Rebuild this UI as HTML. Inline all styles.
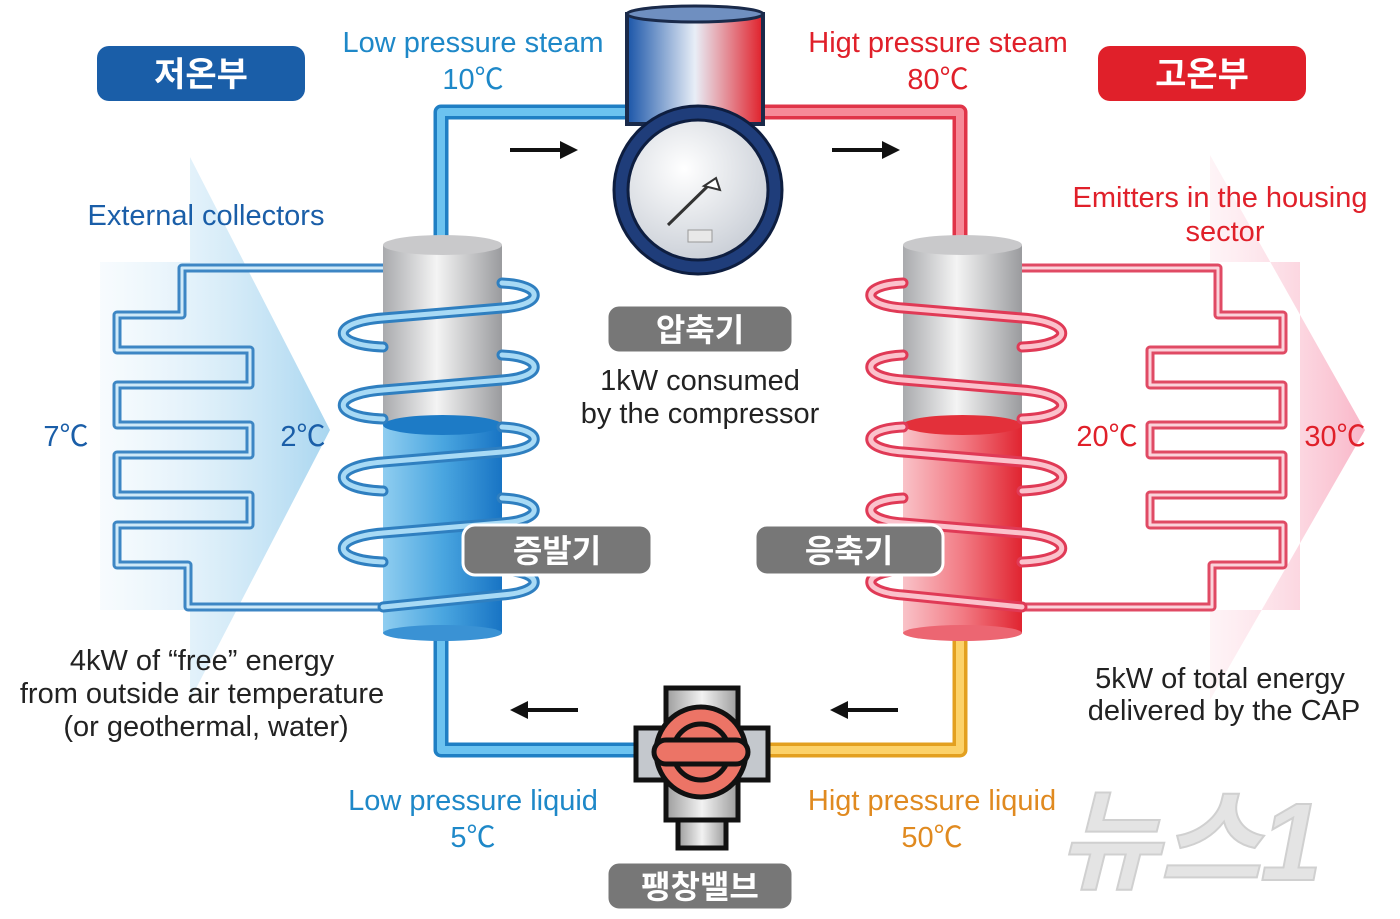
<!DOCTYPE html>
<html><head><meta charset="utf-8"><style>
html,body{margin:0;padding:0;background:#fff;}
svg{display:block;}
text{font-family:"Liberation Sans","Noto Sans CJK KR",sans-serif;}
</style></head><body>
<svg width="1400" height="919" viewBox="0 0 1400 919" xmlns="http://www.w3.org/2000/svg">
<defs>
<linearGradient id="bluTri" x1="0" x2="1" y1="0" y2="0"><stop offset="0" stop-color="#e6f3fb" stop-opacity="0.3"/><stop offset="1" stop-color="#a9d6f0"/></linearGradient>
<linearGradient id="redTri" x1="0" x2="1" y1="0" y2="0"><stop offset="0" stop-color="#fde3ea" stop-opacity="0.4"/><stop offset="1" stop-color="#f9b6c8"/></linearGradient>
<linearGradient id="gray" x1="0" x2="1"><stop offset="0" stop-color="#a9aaad"/><stop offset="0.45" stop-color="#f4f4f4"/><stop offset="1" stop-color="#9a9b9e"/></linearGradient>
<linearGradient id="blueC" x1="0" x2="1"><stop offset="0" stop-color="#8fcdf0"/><stop offset="0.5" stop-color="#4aa6e0"/><stop offset="1" stop-color="#1874c4"/></linearGradient>
<linearGradient id="redC" x1="0" x2="1"><stop offset="0" stop-color="#f9c2c8"/><stop offset="0.5" stop-color="#f27b84"/><stop offset="1" stop-color="#e02430"/></linearGradient>
<linearGradient id="comp" x1="0" x2="1"><stop offset="0" stop-color="#1a55a8"/><stop offset="0.5" stop-color="#e8eef7"/><stop offset="1" stop-color="#e0202a"/></linearGradient>
<radialGradient id="face" cx="0.4" cy="0.35" r="0.7"><stop offset="0" stop-color="#ffffff"/><stop offset="1" stop-color="#c9ced6"/></radialGradient>
<linearGradient id="valve" x1="0" x2="1"><stop offset="0" stop-color="#9c9c9c"/><stop offset="0.5" stop-color="#f2f2f2"/><stop offset="1" stop-color="#9c9c9c"/></linearGradient>
</defs>

<!-- pale arrows -->
<polygon points="190,157 330,430 190,700 190,610 100,610 100,262 190,262" fill="url(#bluTri)"/>
<polygon points="1210,155 1365,430 1210,700 1210,610 1300,610 1300,262 1210,262" fill="url(#redTri)"/>

<!-- serpentines -->
<g fill="none" stroke-linejoin="round">
<path id="sl" d="M383,268 H182 V315 H117 V350 H250 V385 H117 V425 H250 V455 H117 V495 H250 V525 H117 V565 H188 V607 H383" stroke="#3d86c4" stroke-width="9"/>
<path d="M383,268 H182 V315 H117 V350 H250 V385 H117 V425 H250 V455 H117 V495 H250 V525 H117 V565 H188 V607 H383" stroke="#cfe9f8" stroke-width="3"/>
<path d="M1022,268 H1218 V315 H1283 V350 H1150 V385 H1283 V425 H1150 V455 H1283 V495 H1150 V525 H1283 V565 H1212 V607 H1022" stroke="#e04a64" stroke-width="9"/>
<path d="M1022,268 H1218 V315 H1283 V350 H1150 V385 H1283 V425 H1150 V455 H1283 V495 H1150 V525 H1283 V565 H1212 V607 H1022" stroke="#fbd3db" stroke-width="3"/>
</g>

<!-- main pipes -->
<g fill="none" stroke-linejoin="round" stroke-linecap="round">
<path d="M441,240 V112 H630" stroke="#1f7fc4" stroke-width="15"/>
<path d="M441,240 V112 H630" stroke="#6cc3f0" stroke-width="8"/>
<path d="M760,112 H960 V240" stroke="#e03448" stroke-width="15"/>
<path d="M760,112 H960 V240" stroke="#f68a98" stroke-width="8"/>
<path d="M441,635 V750 H640" stroke="#1f7fc4" stroke-width="15"/>
<path d="M441,635 V750 H640" stroke="#6cc3f0" stroke-width="8"/>
<path d="M960,640 V750 H765" stroke="#e3a020" stroke-width="15"/>
<path d="M960,640 V750 H765" stroke="#fcd26a" stroke-width="8"/>
</g>

<!-- evaporator -->
<rect x="383" y="245" width="119" height="180" fill="url(#gray)"/>
<ellipse cx="442.5" cy="245" rx="59.5" ry="10" fill="#c9c9cb"/>
<rect x="383" y="425" width="119" height="208" fill="url(#blueC)"/>
<ellipse cx="442.5" cy="633" rx="59.5" ry="8" fill="#3a92d4"/>
<ellipse cx="442.5" cy="425" rx="59.5" ry="10" fill="#1d7bc6"/>
<!-- condenser -->
<rect x="903" y="245" width="119" height="180" fill="url(#gray)"/>
<ellipse cx="962.5" cy="245" rx="59.5" ry="10" fill="#c9c9cb"/>
<rect x="903" y="425" width="119" height="208" fill="url(#redC)"/>
<ellipse cx="962.5" cy="633" rx="59.5" ry="8" fill="#ec6672"/>
<ellipse cx="962.5" cy="425" rx="59.5" ry="10" fill="#e3303a"/>

<!-- coils -->
<g fill="none" stroke-linecap="round">
<g id="coilL">
<path d="M502,283 C545,285 545,305 502,308 L383,318 C330,322 330,345 383,347 M502,355 C545,357 545,377 502,380 L383,390 C330,394 330,417 383,419 M502,427 C545,429 545,449 502,452 L383,462 C330,466 330,489 383,491 M502,498 C545,500 545,520 502,523 L383,533 C330,537 330,560 383,562 M502,570 C545,572 545,592 502,595 L383,607" stroke="#2f7fc0" stroke-width="11"/>
<path d="M502,283 C545,285 545,305 502,308 L383,318 C330,322 330,345 383,347 M502,355 C545,357 545,377 502,380 L383,390 C330,394 330,417 383,419 M502,427 C545,429 545,449 502,452 L383,462 C330,466 330,489 383,491 M502,498 C545,500 545,520 502,523 L383,533 C330,537 330,560 383,562 M502,570 C545,572 545,592 502,595 L383,607" stroke="#a8daf5" stroke-width="5"/>
</g>
<path d="M903,283 C860,285 860,305 903,308 L1022,318 C1075,322 1075,345 1022,347 M903,355 C860,357 860,377 903,380 L1022,390 C1075,394 1075,417 1022,419 M903,427 C860,429 860,449 903,452 L1022,462 C1075,466 1075,489 1022,491 M903,498 C860,500 860,520 903,523 L1022,533 C1075,537 1075,560 1022,562 M903,570 C860,572 860,592 903,595 L1022,607" stroke="#e03a56" stroke-width="11"/>
<path d="M903,283 C860,285 860,305 903,308 L1022,318 C1075,322 1075,345 1022,347 M903,355 C860,357 860,377 903,380 L1022,390 C1075,394 1075,417 1022,419 M903,427 C860,429 860,449 903,452 L1022,462 C1075,466 1075,489 1022,491 M903,498 C860,500 860,520 903,523 L1022,533 C1075,537 1075,560 1022,562 M903,570 C860,572 860,592 903,595 L1022,607" stroke="#fbc2cc" stroke-width="5"/>
</g>

<!-- compressor -->
<rect x="627" y="14" width="136" height="110" fill="url(#comp)" stroke="#1a2a4a" stroke-width="4"/>
<ellipse cx="695" cy="14" rx="68" ry="8" fill="#6f8fc0" stroke="#1a2a4a" stroke-width="3"/>
<circle cx="698" cy="190" r="84" fill="#1f3d7a" stroke="#0e1e40" stroke-width="3"/>
<circle cx="698" cy="190" r="70" fill="url(#face)" stroke="#0e1e40" stroke-width="3"/>
<line x1="668" y1="225" x2="712" y2="182" stroke="#333" stroke-width="3"/>
<polygon points="704,186 716,178 720,190" fill="#fff" stroke="#333" stroke-width="2"/>
<rect x="688" y="230" width="24" height="12" fill="#e8e8e8" stroke="#999"/>

<!-- valve -->
<rect x="666" y="688" width="72" height="132" fill="url(#valve)" stroke="#111" stroke-width="5"/>
<rect x="678" y="820" width="48" height="28" fill="url(#valve)" stroke="#111" stroke-width="5"/>
<rect x="636" y="728" width="132" height="52" fill="#c4c8cd" stroke="#111" stroke-width="5"/>
<circle cx="701" cy="752" r="45" fill="#ec7466" stroke="#111" stroke-width="5"/>
<circle cx="701" cy="752" r="28" fill="#ec7466" stroke="#111" stroke-width="5"/>
<rect x="654" y="740" width="94" height="24" rx="12" fill="#ec7466" stroke="#111" stroke-width="5"/>

<!-- arrows -->
<g stroke="#111" stroke-width="4" fill="#111">
<line x1="510" y1="150" x2="562" y2="150"/><polygon points="578,150 560,141 560,159" stroke="none"/>
<line x1="832" y1="150" x2="884" y2="150"/><polygon points="900,150 882,141 882,159" stroke="none"/>
<line x1="578" y1="710" x2="526" y2="710"/><polygon points="510,710 528,701 528,719" stroke="none"/>
<line x1="898" y1="710" x2="846" y2="710"/><polygon points="830,710 848,701 848,719" stroke="none"/>
</g>

<!-- top labels -->
<rect x="97" y="46" width="208" height="55" rx="12" fill="#1a5ea8"/>
<text x="201" y="86" font-size="34" font-weight="bold" fill="#fff" text-anchor="middle">저온부</text>
<rect x="1098" y="46" width="208" height="55" rx="12" fill="#e0202a"/>
<text x="1202" y="86" font-size="34" font-weight="bold" fill="#fff" text-anchor="middle">고온부</text>

<g font-size="29" text-anchor="middle">
<text x="473" y="52" fill="#1e88c8">Low pressure steam</text>
<text x="473" y="89" fill="#1e88c8">10℃</text>
<text x="938" y="52" fill="#e0202a">Higt pressure steam</text>
<text x="938" y="89" fill="#e0202a">80℃</text>
<text x="206" y="225" fill="#1a5ea8">External collectors</text>
<text x="1220" y="207" fill="#e0202a">Emitters in the housing</text>
<text x="1225" y="241" fill="#e0202a">sector</text>
<text x="66" y="446" fill="#1a5ea8">7℃</text>
<text x="303" y="446" fill="#1a5ea8">2℃</text>
<text x="1107" y="446" fill="#e0202a">20℃</text>
<text x="1335" y="446" fill="#e0202a">30℃</text>
<text x="700" y="390" fill="#222">1kW consumed</text>
<text x="700" y="423" fill="#222">by the compressor</text>
<text x="202" y="670" fill="#222">4kW of “free” energy</text>
<text x="202" y="703" fill="#222">from outside air temperature</text>
<text x="206" y="736" fill="#222">(or geothermal, water)</text>
<text x="1220" y="688" fill="#222">5kW of total energy</text>
<text x="1224" y="720" fill="#222">delivered by the CAP</text>
<text x="473" y="810" fill="#1e88c8">Low pressure liquid</text>
<text x="473" y="847" fill="#1e88c8">5℃</text>
<text x="932" y="810" fill="#e08a20">Higt pressure liquid</text>
<text x="932" y="847" fill="#e08a20">50℃</text>
</g>

<!-- gray labels -->
<g font-size="32" font-weight="bold" fill="#fff" text-anchor="middle">
<rect x="607" y="305" width="186" height="48" rx="12" fill="#777" stroke="#fff" stroke-width="3"/>
<text x="700" y="341">압축기</text>
<rect x="463" y="525" width="189" height="50" rx="12" fill="#777" stroke="#fff" stroke-width="3"/>
<text x="557" y="562">증발기</text>
<rect x="755" y="525" width="188" height="50" rx="12" fill="#777" stroke="#fff" stroke-width="3"/>
<text x="849" y="562">응축기</text>
<rect x="607" y="862" width="186" height="48" rx="12" fill="#777" stroke="#fff" stroke-width="3"/>
<text x="700" y="898">팽창밸브</text>
</g>

<!-- watermark -->
<text x="1190" y="880" font-size="110" font-weight="bold" font-style="italic" fill="#e4e4e4" stroke="#d0d0d0" stroke-width="2" text-anchor="middle">뉴스1</text>
</svg>
</body></html>
